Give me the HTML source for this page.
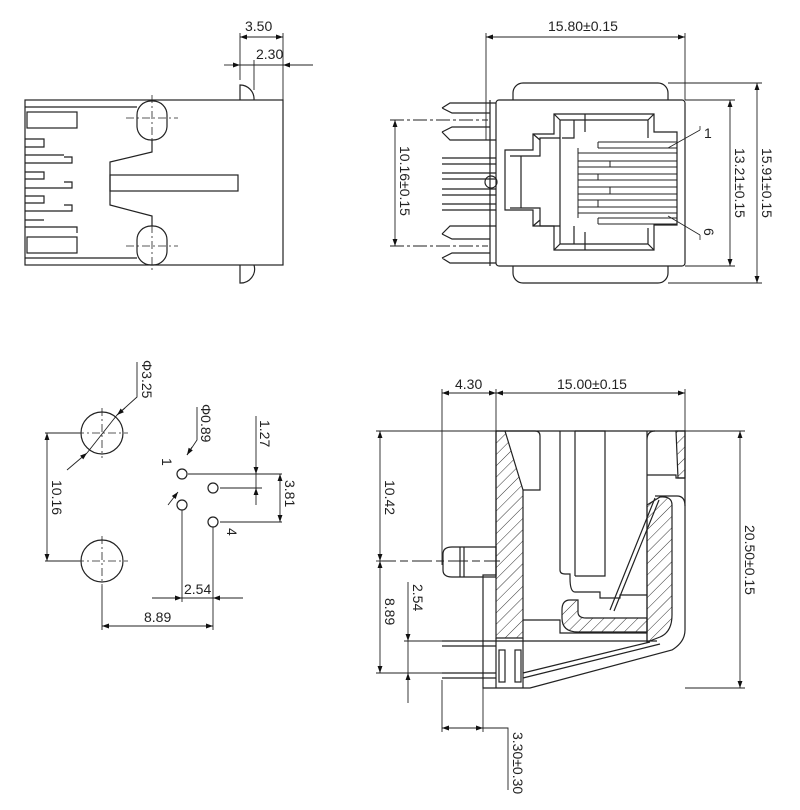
<!DOCTYPE html>
<html><head><meta charset="utf-8"><style>
html,body{margin:0;padding:0;background:#fff}
svg{display:block}
text{font-family:"Liberation Sans",sans-serif;font-size:14px;fill:#222}
</style></head><body>
<svg width="800" height="810" viewBox="0 0 800 810" xmlns="http://www.w3.org/2000/svg">
<defs>
<marker id="a" viewBox="0 0 10 10" refX="10" refY="5" markerWidth="10" markerHeight="7" orient="auto-start-reverse" markerUnits="userSpaceOnUse"><path d="M0,1.5 L10,5 L0,8.5z" fill="#111"/></marker>
<pattern id="h" width="8" height="8" patternUnits="userSpaceOnUse" patternTransform="rotate(45)"><line x1="0" y1="0" x2="0" y2="8" stroke="#333" stroke-width="1"/></pattern>
</defs>
<g fill="none" stroke="#222" stroke-width="1.2">
<!-- TOP LEFT -->
<rect x="25" y="100" width="258" height="165"/>
<line x1="25" y1="107" x2="137" y2="107"/><line x1="25" y1="258" x2="137" y2="258"/>
<rect x="27" y="112" width="50" height="16"/><rect x="27" y="237" width="50" height="16"/>
<path d="M25,139 H44 V147 H25 M25,155 H64 M25,163 H72 V157 H64 M25,172 H44 V179 H25 M25,188 H72 V182 H64 M25,196 H44 V203 H25 M25,211 H72 V205 H64 M25,220 H44 M25,227 H77 V233"/>
<rect x="137" y="101" width="30" height="39" rx="14"/>
<rect x="137" y="226" width="30" height="39" rx="14"/>
<path d="M152,140 V152 L110,162 V205 L152,216 V226"/>
<rect x="110" y="175" width="128" height="16"/>
<path d="M240,100 V85 A14,14 0 0 1 254,100 M240,265 V283 A14,14 0 0 0 254,265"/>
<g stroke-width="0.8" stroke-dasharray="8,3,2,3"><line x1="126" y1="118" x2="178" y2="118"/><line x1="152" y1="95" x2="152" y2="140"/><line x1="126" y1="246" x2="178" y2="246"/><line x1="152" y1="225" x2="152" y2="272"/></g>
<g stroke-width="0.9"><line x1="240" y1="33" x2="240" y2="80"/><line x1="283" y1="33" x2="283" y2="100"/><line x1="254" y1="60" x2="254" y2="90"/>
<line x1="240" y1="37" x2="283" y2="37" marker-start="url(#a)" marker-end="url(#a)"/>
<line x1="224" y1="65" x2="240" y2="65" marker-end="url(#a)"/><line x1="240" y1="65" x2="283" y2="65"/><line x1="313" y1="65" x2="283" y2="65" marker-end="url(#a)"/></g>

<!-- TOP RIGHT -->
<rect x="496" y="100" width="189" height="166" rx="3"/>
<path d="M513,100 V93 A10,10 0 0 1 523,83 H658 A10,10 0 0 1 668,93 V100 M513,266 V273 A10,10 0 0 0 523,283 H658 A10,10 0 0 0 668,273 V266"/>
<path d="M554,114 H654 V132 H677 V225 H654 V250 H554 V226 H533 V210 H505 V150 H533 V134 H554 Z"/>
<path d="M560,120 H648 V138 M560,120 V138 H540 V156 H510 M560,244 H648 V228 M560,244 V226 H540 V208 H510 M521,156 V208 M560,138 V226 M574,120 V138 H562 M574,244 V226 M585,114 V132 M585,250 V232 M554,114 L560,120 M654,114 L648,120 M554,250 L560,244 M654,250 L648,244 M533,134 L540,140 M533,226 L540,220"/>
<g stroke-width="1"><path d="M578,148 V218 M578,153 H677 M598,148 H677 M578,161 H677 M578,167 H677 M610,161 V167 M578,174 H677 M578,180 H677 M598,174 V180 M578,187 H677 M578,194 H677 M610,187 V194 M578,200 H677 M578,207 H677 M598,200 V207 M578,213 H677 M598,218 H677 M598,142 H677 M598,224 H677 M598,142 V148 M598,218 V224"/></g>
<path d="M442,108 L450,103 H496 M442,108 L452,113 H490 M442,132 L450,140 H496 M442,132 L452,127 H490 M442,234 L450,226 H496 M442,234 L452,239 H490 M442,258 L450,263 H496 M442,258 L452,253 H490 M442,158 H496 M442,164 H496 M442,173 H496 M442,179 H496 M442,189 H496 M442,195 H496 M442,204 H496 M442,210 H496 M490,100 V266"/>
<circle cx="491" cy="182" r="6"/>
<g stroke-width="0.8"><path d="M700,130 L668,148 M700,235 L668,216 M700,126 V130 M700,235 V240"/></g>
<g stroke-width="0.9">
<line x1="486" y1="33" x2="486" y2="140"/><line x1="685" y1="33" x2="685" y2="100"/>
<line x1="486" y1="37" x2="685" y2="37" marker-start="url(#a)" marker-end="url(#a)"/>
<line x1="668" y1="83" x2="762" y2="83"/><line x1="685" y1="100" x2="735" y2="100"/><line x1="685" y1="266" x2="735" y2="266"/><line x1="668" y1="283" x2="762" y2="283"/>
<line x1="730" y1="100" x2="730" y2="266" marker-start="url(#a)" marker-end="url(#a)"/>
<line x1="757" y1="83" x2="757" y2="283" marker-start="url(#a)" marker-end="url(#a)"/>
<line x1="390" y1="120" x2="488" y2="120" stroke-dasharray="14,3,3,3"/><line x1="390" y1="246" x2="488" y2="246" stroke-dasharray="14,3,3,3"/>
<line x1="395" y1="120" x2="395" y2="246" marker-start="url(#a)" marker-end="url(#a)"/>
</g>

<!-- BOTTOM LEFT -->
<circle cx="102" cy="433" r="21"/><circle cx="102" cy="561" r="21"/>
<circle cx="182" cy="474" r="5"/><circle cx="213" cy="488" r="5"/><circle cx="182" cy="505" r="5"/><circle cx="213" cy="522" r="5"/>
<g stroke-width="0.8" stroke-dasharray="8,3,2,3"><line x1="76" y1="433" x2="128" y2="433"/><line x1="102" y1="408" x2="102" y2="458"/><line x1="76" y1="561" x2="128" y2="561"/><line x1="102" y1="536" x2="102" y2="586"/></g>
<g stroke-width="0.9">
<line x1="45" y1="433" x2="80" y2="433"/><line x1="45" y1="561" x2="80" y2="561"/>
<line x1="47" y1="433" x2="47" y2="561" marker-start="url(#a)" marker-end="url(#a)"/>
<path d="M137,362 V397 L117,415"/><line x1="125" y1="408" x2="117" y2="415" marker-end="url(#a)"/>
<line x1="67" y1="470" x2="87" y2="453" marker-end="url(#a)"/><line x1="87" y1="453" x2="117" y2="415"/>
<path d="M197,407 V440 L187,455"/><line x1="192" y1="447" x2="187" y2="455" marker-end="url(#a)"/>
<line x1="168" y1="505" x2="178" y2="492" marker-end="url(#a)"/>
<line x1="188" y1="474" x2="282" y2="474"/><line x1="220" y1="488" x2="262" y2="488"/><line x1="220" y1="522" x2="282" y2="522"/>
<line x1="256" y1="416" x2="256" y2="474" marker-end="url(#a)"/><line x1="256" y1="474" x2="256" y2="488"/><line x1="256" y1="505" x2="256" y2="488" marker-end="url(#a)"/>
<line x1="280" y1="474" x2="280" y2="522" marker-start="url(#a)" marker-end="url(#a)"/>
<line x1="182" y1="510" x2="182" y2="602"/><line x1="213" y1="527" x2="213" y2="630"/><line x1="102" y1="586" x2="102" y2="630"/>
<line x1="152" y1="598" x2="182" y2="598" marker-end="url(#a)"/><line x1="182" y1="598" x2="213" y2="598"/><line x1="243" y1="598" x2="213" y2="598" marker-end="url(#a)"/>
<line x1="102" y1="626" x2="213" y2="626" marker-start="url(#a)" marker-end="url(#a)"/>
</g>

<!-- BOTTOM RIGHT -->
<path d="M496,431 H685 V630 Q685,642 672,650 L530,688 H483 V575 H496 Z"/>
<path d="M496,431 H505 L523,490 V638 H496 Z" fill="url(#h)"/>
<path d="M676,431 H685 V478 H678 Z" fill="url(#h)"/>
<path d="M505,431 H535 Q540,431 540,436 V490 H523 M560,431 V570 Q560,574 565,574 H570 V578 Q570,592 575,592 H600 V598 H620 V595 H647 V579 M575,431 V576 M575,431 H605 V576 H575 M647,431 V642 M647,440 Q647,431 655,431 M647,475 H676 V478 H685 M523,620 H560 V633 H647"/>
<path d="M562,610 Q562,600 570,600 H578 V612 Q578,618 586,618 H647 V632 H578 Q562,632 562,618 Z" fill="url(#h)"/>
<path d="M647,505 L660,497 Q672,496 672,505 V615 Q672,632 660,637 L647,642 Z" fill="url(#h)"/>
<path d="M655,498 L610,610 M659,500 L614,611 M655,496 H677 Q685,496 685,506"/>
<path d="M442,641 H657 M442,646 H496 M442,673 H496 M442,678 H496 M523,678 L660,644 M523,673 L650,642 M496,638 V688 M523,638 V688"/>
<rect x="499" y="650" width="6" height="32"/><rect x="515" y="650" width="6" height="32"/>
<path d="M452,547 H496 V577 H452 Q443,577 443,570 V554 Q443,547 452,547 Z M460,547 V577 M464,547 V577"/>
<g stroke-width="0.9">
<line x1="442" y1="389" x2="442" y2="565"/><line x1="496" y1="389" x2="496" y2="431"/><line x1="685" y1="389" x2="685" y2="431"/>
<line x1="442" y1="393" x2="496" y2="393" marker-start="url(#a)" marker-end="url(#a)"/>
<line x1="496" y1="393" x2="685" y2="393" marker-start="url(#a)" marker-end="url(#a)"/>
<line x1="376" y1="431" x2="496" y2="431"/><line x1="685" y1="431" x2="745" y2="431"/><line x1="685" y1="688" x2="745" y2="688"/>
<line x1="740" y1="431" x2="740" y2="688" marker-start="url(#a)" marker-end="url(#a)"/>
<line x1="376" y1="561" x2="500" y2="561" stroke-dasharray="20,4,8,4"/>
<line x1="376" y1="673" x2="442" y2="673"/><line x1="404" y1="641" x2="442" y2="641"/>
<line x1="380" y1="431" x2="380" y2="561" marker-start="url(#a)" marker-end="url(#a)"/>
<line x1="380" y1="561" x2="380" y2="673" marker-start="url(#a)" marker-end="url(#a)"/>
<line x1="408" y1="582" x2="408" y2="641" marker-end="url(#a)"/><line x1="408" y1="641" x2="408" y2="673"/><line x1="408" y1="703" x2="408" y2="673" marker-end="url(#a)"/>
<line x1="442" y1="680" x2="442" y2="732"/><line x1="483" y1="688" x2="483" y2="732"/>
<line x1="442" y1="728" x2="462" y2="728" marker-start="url(#a)"/><line x1="462" y1="728" x2="483" y2="728" marker-end="url(#a)"/>
<path d="M483,728 H508 V790"/>
</g>
</g>
<!-- TEXT -->
<text x="245" y="31">3.50</text><text x="256" y="59">2.30</text>
<text x="548" y="31">15.80±0.15</text>
<text x="704" y="138" font-size="13">1</text>
<text transform="translate(704,228) rotate(90)" font-size="13">6</text>
<text transform="translate(400,146) rotate(90)">10.16±0.15</text>
<text transform="translate(735,148) rotate(90)">13.21±0.15</text>
<text transform="translate(762,148) rotate(90)">15.91±0.15</text>
<text transform="translate(142,360) rotate(90)">Φ3.25</text>
<text transform="translate(201,404) rotate(90)">Φ0.89</text>
<text transform="translate(260,420) rotate(90)" font-size="13">1.27</text>
<text transform="translate(285,480) rotate(90)">3.81</text>
<text transform="translate(52,480) rotate(90)">10.16</text>
<text transform="translate(162,458) rotate(90)" font-size="13">1</text>
<text transform="translate(227,528) rotate(90)" font-size="13">4</text>
<text x="184" y="594">2.54</text><text x="144" y="622">8.89</text>
<text x="455" y="389">4.30</text><text x="557" y="389">15.00±0.15</text>
<text transform="translate(385,480) rotate(90)">10.42</text>
<text transform="translate(385,598) rotate(90)">8.89</text>
<text transform="translate(413,584) rotate(90)" font-size="13">2.54</text>
<text transform="translate(745,525) rotate(90)">20.50±0.15</text>
<text transform="translate(513,732) rotate(90)">3.30±0.30</text>
</svg>
</body></html>
